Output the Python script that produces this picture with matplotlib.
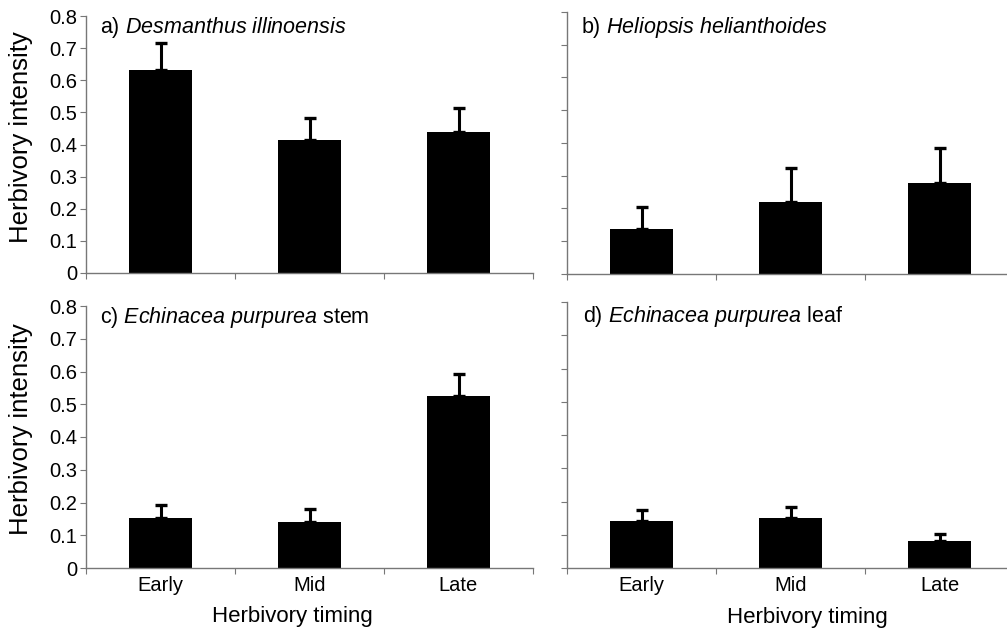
import numpy as np
import matplotlib
matplotlib.use('Agg')
from matplotlib import pyplot as plt

plt.rcParams['font.family'] = ['Liberation Sans', 'DejaVu Sans']
plt.rcParams['mathtext.fontset'] = 'custom'
plt.rcParams['mathtext.rm'] = 'Liberation Sans'
plt.rcParams['mathtext.it'] = 'Liberation Sans:italic'

timing = ['Early', 'Mid', 'Late']

# means and upper SE for each panel
desm_mean = [0.633, 0.413, 0.439]
desm_se = [0.082, 0.071, 0.075]
helio_mean = [0.138, 0.220, 0.277]
helio_se = [0.066, 0.103, 0.109]
stem_mean = [0.152, 0.140, 0.525]
stem_se = [0.040, 0.040, 0.067]
leaf_mean = [0.140, 0.149, 0.082]
leaf_se = [0.034, 0.034, 0.021]

titles = [r'a) $\it{Desmanthus\ illinoensis}$',
          r'b) $\it{Heliopsis\ helianthoides}$',
          r'c) $\it{Echinacea\ purpurea}$ stem',
          r'd) $\it{Echinacea\ purpurea}$ leaf']

yticks = [0, 0.1, 0.2, 0.3, 0.4, 0.5, 0.6, 0.7, 0.8]
yticklabels = ['0', '0.1', '0.2', '0.3', '0.4', '0.5', '0.6', '0.7', '0.8']

W, H = 1007, 633
fig = plt.figure(figsize=(W / 100, H / 100), dpi=100)

# axes boxes in pixels: left, right, bottom(y), top(y)
boxes = [(86, 533, 273, 16), (567, 1014, 274, 12),
         (86, 533, 568, 306), (567, 1014, 568, 302)]
means = [desm_mean, helio_mean, stem_mean, leaf_mean]
ses = [desm_se, helio_se, stem_se, leaf_se]
title_pos = [(0.031, 0.934), (0.031, 0.918), (0.031, 0.935), (0.036, 0.926)]

axc = '#777777'
x = np.arange(len(timing))

for i in range(4):
    l, r, b, t = boxes[i]
    ax = fig.add_axes([l / W, 1 - b / H, (r - l) / W, (b - t) / H])
    ax.bar(x, means[i], width=0.42, color='black', zorder=2)
    ax.errorbar(x, means[i], yerr=[np.zeros(3), ses[i]], fmt='none',
                ecolor='black', elinewidth=2.2, capsize=4.5, capthick=2.4, zorder=3)
    ax.set_xlim(-0.5, 2.5)
    ax.set_ylim(0, 0.8)
    for s in ['top', 'right']:
        ax.spines[s].set_visible(False)
    for s in ['left', 'bottom']:
        ax.spines[s].set_color(axc)
        ax.spines[s].set_linewidth(1)
    ax.set_yticks(yticks)
    ax.tick_params(axis='y', direction='out', length=4.5, width=0.8, color=axc,
                   pad=2, labelsize=14.5)
    ax.set_xticks([-0.5, 0.5, 1.5, 2.5])
    ax.set_xticklabels([])
    ax.tick_params(axis='x', which='major', direction='out', length=4, width=0.8, color=axc)
    if i % 2 == 0:
        ax.set_yticklabels(yticklabels)
        ax.set_ylabel('Herbivory intensity', fontsize=18.5)
        ax.yaxis.set_label_coords(-0.119, 0.53)
    else:
        ax.set_yticklabels([])
    if i >= 2:
        ax.set_xticks(x, minor=True)
        ax.set_xticklabels(timing, minor=True)
        ax.tick_params(axis='x', which='minor', length=0, pad=6, labelsize=14.5)
        ax.set_xlabel('Herbivory timing', fontsize=16)
        ax.xaxis.set_label_coords(0.461 if i == 2 else 0.537, -0.187)
        ax.xaxis.label.set_va('center')
    ax.text(title_pos[i][0], title_pos[i][1], titles[i], transform=ax.transAxes,
            fontsize=15.5, va='baseline', ha='left')

fig.savefig('out.png', dpi=100)
